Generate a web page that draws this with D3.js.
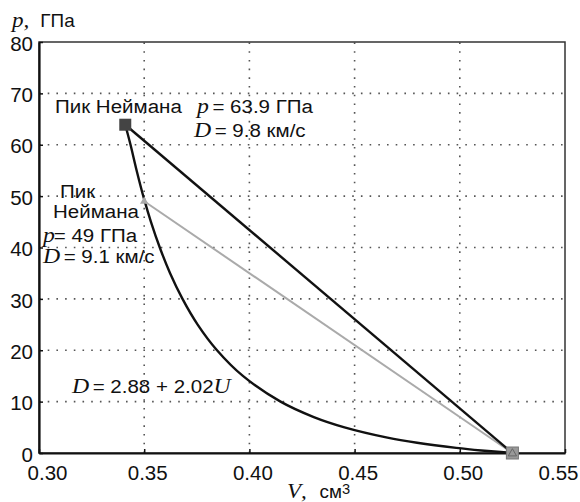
<!DOCTYPE html>
<html><head><meta charset="utf-8">
<script src="https://cdn.jsdelivr.net/npm/d3@7/dist/d3.min.js"></script>
<style>
html,body{margin:0;padding:0;background:#fff;}
svg{display:block;}
.sans{font-family:"Liberation Sans",Arial,sans-serif;}
.it{font-family:"Liberation Serif","Times New Roman",serif;font-style:italic;}
</style></head>
<body>
<script>
// Hugoniot curve
const hugV = [0.341, 0.3435, 0.3464, 0.3499, 0.3532, 0.3574, 0.3623, 0.3682, 0.3754, 0.3846, 0.3969, 0.4148, 0.4306, 0.4452, 0.4656, 0.4797, 0.4983, 0.5102, 0.525];
const hugP = [63.9, 60, 55, 49.5, 45, 40, 35, 30, 25, 20, 15, 10, 7, 5, 3, 2, 1, 0.5, 0];
// Rayleigh lines
const ray1V = [0.341, 0.525];
const ray1P = [63.9, 0];
const ray2V = [0.35, 0.525];
const ray2P = [49, 0];
// Tick labels
const xTicks = [0.30, 0.35, 0.40, 0.45, 0.50, 0.55];
const xTickLabels = ["0.30", "0.35", "0.40", "0.45", "0.50", "0.55"];
const yTicks = [0, 10, 20, 30, 40, 50, 60, 70, 80];
const yTickLabels = ["0", "10", "20", "30", "40", "50", "60", "70", "80"];

const W = 580, H = 502;
const m = {left: 39, right: 15, top: 42, bottom: 49};
const svg = d3.select("body").append("svg").attr("width", W).attr("height", H);
const x = d3.scaleLinear().domain([0.30, 0.55]).range([m.left, W - m.right]);
const y = d3.scaleLinear().domain([0, 80]).range([H - m.bottom, m.top]);

// grid
const grid = svg.append("g").attr("stroke", "#555").attr("stroke-width", 1.6).attr("stroke-dasharray", "1.6,7.1");
grid.selectAll(".gx").data(xTicks.slice(1, -1)).join("line")
  .attr("x1", d => x(d)).attr("x2", d => x(d)).attr("y1", y(0)).attr("y2", y(80));
grid.selectAll(".gy").data(yTicks.slice(1, -1)).join("line")
  .attr("y1", d => y(d)).attr("y2", d => y(d)).attr("x1", x(0.30)).attr("x2", x(0.55));

// frame
svg.append("rect").attr("x", x(0.30)).attr("y", y(80)).attr("width", x(0.55) - x(0.30)).attr("height", y(0) - y(80))
  .attr("fill", "none").attr("stroke", "#333").attr("stroke-width", 1.5);

// axes
const xAxis = d3.axisBottom(x).tickValues(xTicks).tickFormat((d, i) => xTickLabels[i]).tickSizeInner(-4).tickSizeOuter(0).tickPadding(12);
const yAxis = d3.axisLeft(y).tickValues(yTicks).tickFormat((d, i) => yTickLabels[i]).tickSizeInner(-4).tickSizeOuter(0).tickPadding(6);
const gx = svg.append("g").attr("transform", `translate(0,${y(0)})`).call(xAxis);
const gy = svg.append("g").attr("transform", `translate(${x(0.30)},0)`).call(yAxis);
[gx, gy].forEach(g => {
  g.select(".domain").attr("stroke", "#111").attr("stroke-width", 2.2);
  g.selectAll(".tick line").attr("stroke", "#111").attr("stroke-width", 1.5);
  g.selectAll(".tick text").attr("class", "sans").attr("font-size", 20.5).attr("fill", "#111");
});
gy.selectAll(".tick text").attr("dy", "0.4em");
gx.selectAll(".tick text").attr("dy", "0.72em")
  .attr("dx", (d, i) => i === 0 ? 8 : (i === xTicks.length - 1 ? -7 : 3));

// lines
const line = d3.line().x(d => x(d[0])).y(d => y(d[1]));
const hug = hugV.map((v, i) => [v, hugP[i]]);
svg.append("path").attr("d", d3.line().x(d => x(d[0])).y(d => y(d[1])).curve(d3.curveCatmullRom)(hug))
  .attr("fill", "none").attr("stroke", "#111").attr("stroke-width", 2.4);
svg.append("path").attr("d", line(ray2V.map((v, i) => [v, ray2P[i]])))
  .attr("fill", "none").attr("stroke", "#aaa").attr("stroke-width", 2);
svg.append("path").attr("d", line(ray1V.map((v, i) => [v, ray1P[i]])))
  .attr("fill", "none").attr("stroke", "#111").attr("stroke-width", 2.4);

// markers
svg.append("rect").attr("x", x(ray1V[0]) - 6).attr("y", y(ray1P[0]) - 6).attr("width", 12).attr("height", 12)
  .attr("fill", "#444");
svg.append("path").attr("d", d3.symbol().type(d3.symbolTriangle).size(30)())
  .attr("transform", `translate(${x(ray2V[0])},${y(ray2P[0])})`).attr("fill", "#aaa");
svg.append("rect").attr("x", x(ray1V[1]) - 6).attr("y", y(ray1P[1]) - 6).attr("width", 12).attr("height", 12)
  .attr("fill", "#999").attr("stroke", "#777").attr("stroke-width", 1);
svg.append("path").attr("d", d3.symbol().type(d3.symbolTriangle).size(30)())
  .attr("transform", `translate(${x(ray1V[1])},${y(ray1P[1]) + 0.5})`).attr("fill", "none").attr("stroke", "#666").attr("stroke-width", 1);

// text helpers
function label(px, py, parts, sx) {
  sx = sx || 1.08;
  const t = svg.append("text").attr("x", 0).attr("y", 0).attr("fill", "#111")
    .attr("transform", `translate(${px},${py}) scale(${sx},1)`);
  parts.forEach(p => {
    const s = t.append("tspan").text(p.t);
    if (p.it) s.attr("class", "it").attr("font-size", p.fs || 22);
    else s.attr("class", "sans").attr("font-size", p.fs || 19);
    if (p.dx) s.attr("dx", p.dx);
    if (p.dy) s.attr("dy", p.dy);
    if (p.x !== undefined) s.attr("x", p.x);
  });
  return t;
}
// y-axis title
label(12, 27, [{t: "p", it: true, fs: 22}, {t: ",", it: true, fs: 22}, {t: "ГПа", fs: 18, x: 27}], 1.05);
// x-axis title
label(287, 498, [{t: "V", it: true, fs: 22}, {t: ",", it: true, fs: 22}, {t: "см", fs: 18, x: 31}, {t: "3", fs: 14, dy: -4}], 1.05);

// annotations
label(55, 113, [{t: "Пик Неймана"}]);
label(197, 113, [{t: "p", it: true}, {t: " = 63.9 ГПа", dx: -2}]);
label(194, 137, [{t: "D", it: true}, {t: " = 9.8 км/с", dx: -2}]);
label(60, 198, [{t: "Пик"}]);
label(53, 218, [{t: "Неймана"}]);
label(43, 242, [{t: "p", it: true}, {t: "= 49 ГПа", dx: -1}]);
label(43, 263, [{t: "D", it: true}, {t: " = 9.1 км/с", dx: -2}]);
label(72, 393, [{t: "D", it: true}, {t: " = 2.88 + 2.02", dx: -2}, {t: "U", it: true}]);
</script>
</body></html>
